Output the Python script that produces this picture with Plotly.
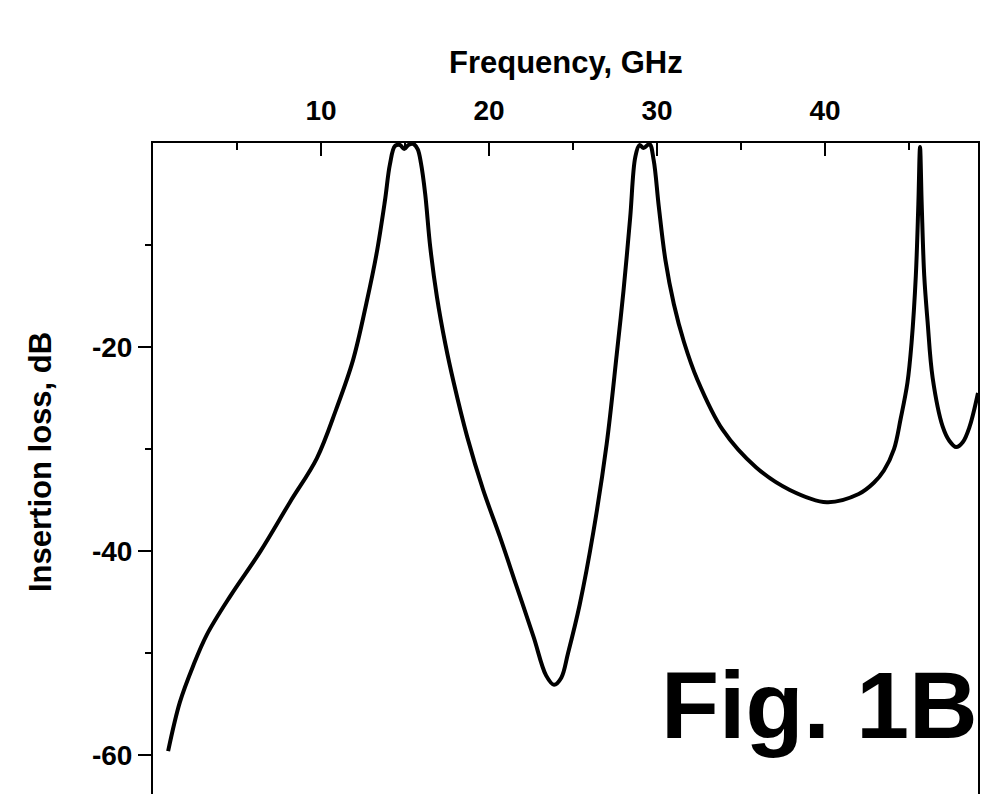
import plotly.graph_objects as go

freq = [0.9, 1.6, 2.4, 3.2, 4.6, 6.4, 8.15, 9.75, 10.9, 11.9, 12.7, 13.3, 13.8, 14.1, 14.4, 14.7,
        14.95, 15.2, 15.5, 15.75, 15.95, 16.2, 16.5, 16.9, 17.4, 17.9, 18.7, 19.65, 20.65, 21.65,
        22.65, 23.4, 23.87, 24.3, 24.7, 25.4, 26.2, 27.0, 27.6, 28.0, 28.4, 28.7, 28.95, 29.2,
        29.55, 29.8, 30.1, 30.5, 31.0, 31.6, 32.4, 33.9, 35.9, 37.9, 40.1, 42.0, 42.9, 43.5,
        44.1, 44.5, 44.9, 45.15, 45.4, 45.55, 45.65, 45.75, 45.9, 46.1, 46.4, 47.0, 47.4, 47.8,
        48.2, 48.6, 49.1]
loss = [-59.6, -54.8, -51.2, -48.2, -44.4, -40.0, -35.2, -30.9, -26.1, -21.3, -15.7, -10.9, -5.7,
        -2.1, -0.3, -0.2, -0.6, -0.2, -0.1, -0.6, -2.0, -5.0, -10.2, -15.1, -19.7, -23.5, -28.8,
        -34.0, -38.6, -43.5, -48.4, -52.2, -53.1, -52.4, -50.0, -45.2, -38.2, -29.5, -20.7, -14.5,
        -7.3, -1.4, -0.2, -0.5, -0.1, -1.7, -6.2, -11.5, -15.8, -19.5, -23.2, -28.1, -31.8, -34.0,
        -35.2, -34.4, -33.3, -32.1, -30.0, -27.0, -23.5, -19.5, -13.0, -6.0, -0.4, -6.0, -13.0,
        -17.5, -23.0, -27.8, -29.2, -29.8, -29.3, -27.8, -24.5]

x_ticks = [10, 20, 30, 40]
x_tick_text = ["10", "20", "30", "40"]
x_minor = [5, 15, 25, 35, 45]
y_ticks = [-60, -40, -20]
y_tick_text = ["-60", "-40", "-20"]
y_minor = [-50, -30, -10]

FONT = "Liberation Sans"

fig = go.Figure()
fig.add_trace(go.Scatter(x=freq, y=loss, mode="lines",
                         line=dict(color="black", width=4, shape="spline", smoothing=1.0),
                         showlegend=False, hoverinfo="skip"))

fig.update_layout(
    width=1006, height=794,
    margin=dict(l=153, r=28, t=143, b=0, pad=0),
    paper_bgcolor="white", plot_bgcolor="white",
    xaxis=dict(
        side="top", range=[0, 49.1], showgrid=False, zeroline=False,
        showline=True, linecolor="black", linewidth=2, mirror=False,
        tickmode="array", tickvals=x_ticks, ticktext=x_tick_text,
        ticks="inside", ticklen=13, tickwidth=2, tickcolor="black",
        ticklabelstandoff=10,
        tickfont=dict(family=FONT, size=28, color="black", weight="bold"),
        minor=dict(tickmode="array", tickvals=x_minor, ticks="inside", ticklen=7,
                   tickwidth=2, tickcolor="black", showgrid=False),
    ),
    yaxis=dict(
        range=[-63.8, 0], showgrid=False, zeroline=False,
        showline=True, linecolor="black", linewidth=2, mirror=True,
        tickmode="array", tickvals=y_ticks, ticktext=y_tick_text,
        ticks="outside", ticklen=13, tickwidth=2, tickcolor="black",
        tickfont=dict(family=FONT, size=28, color="black", weight="bold"),
        minor=dict(tickmode="array", tickvals=y_minor, ticks="outside", ticklen=6,
                   tickwidth=2, tickcolor="black", showgrid=False),
    ),
    annotations=[
        dict(text="<b>Frequency, GHz</b>", xref="paper", yref="paper", x=0.5, y=1.0,
             xanchor="center", yanchor="middle", yshift=81, showarrow=False,
             font=dict(family=FONT, size=31, color="black")),
        dict(text="<b>Insertion loss, dB</b>", xref="paper", yref="paper", x=0.0, y=1.0,
             xanchor="center", yanchor="middle", xshift=-113, yshift=-319,
             textangle=-90, showarrow=False,
             font=dict(family=FONT, size=31, color="black")),
        dict(text="<b>Fig. 1B</b>", xref="paper", yref="paper", x=1.0, y=0.0,
             xanchor="right", yanchor="bottom", xshift=2, yshift=34,
             showarrow=False,
             font=dict(family=FONT, size=95, color="black")),
    ],
)

fig.write_html("out.html")
